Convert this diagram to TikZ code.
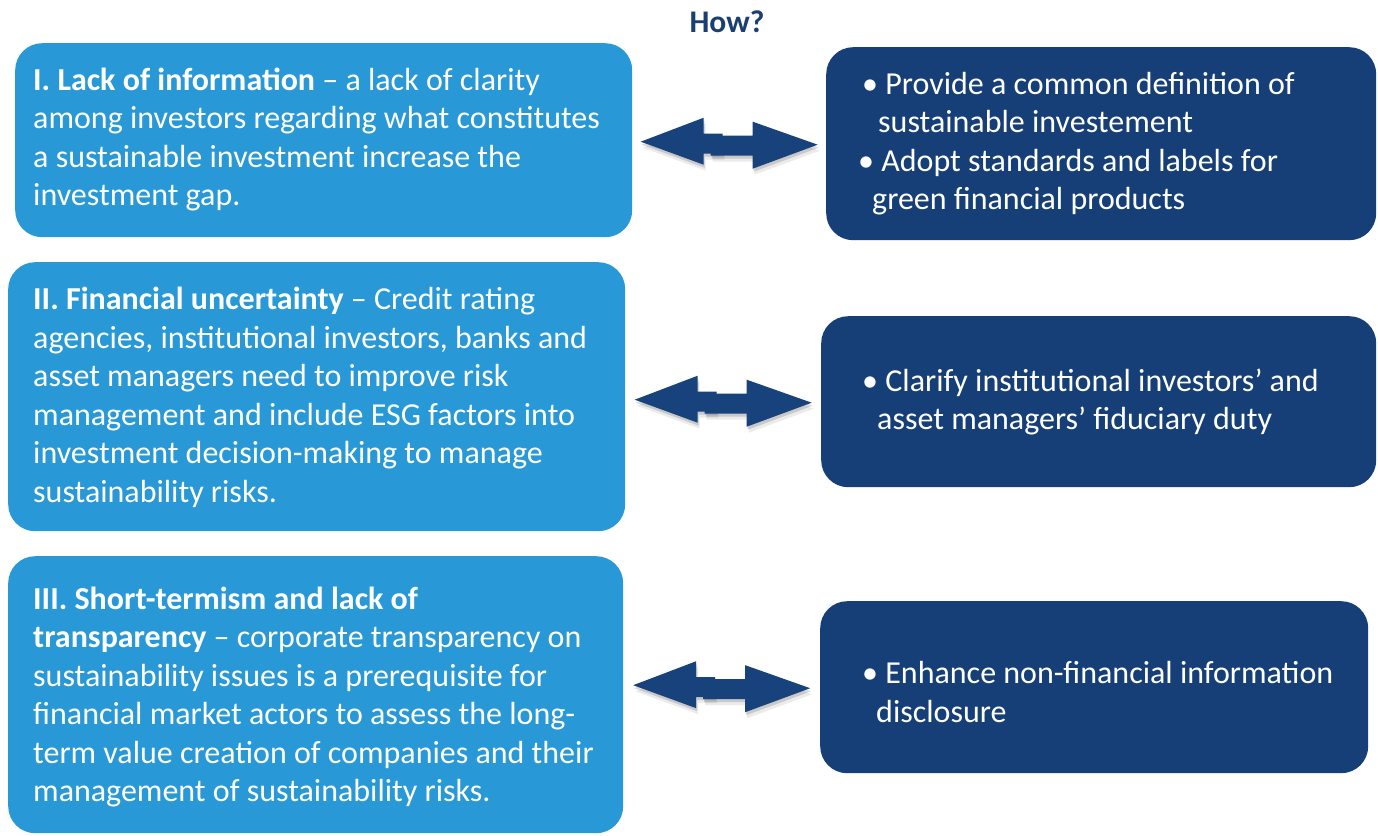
\documentclass[tikz,border=0pt]{standalone}
\usepackage{fontspec}
\setmainfont{Carlito}
\usetikzlibrary{calc}
\definecolor{lightbox}{HTML}{2899D6}
\definecolor{darkbox}{HTML}{163F78}
\definecolor{arrowblue}{HTML}{17427C}
\definecolor{howblue}{HTML}{1B3F73}
\newcommand\leftpiece{(-88.5,-2) -- (-25.5,-26) -- (-25.5,-10) -- (-6.5,-10) -- (-6.5,10) -- (-25.5,10) -- (-25.5,21) -- cycle}
\newcommand\rightpiece{(-18.5,-8) -- (23.5,-8) -- (23.5,-22) -- (88.5,1) -- (23.5,25) -- (23.5,12) -- (-18.5,12) -- cycle}
\newcommand\dualarrow[1]{%
  \begin{scope}[shift={(#1)}]
    \begin{scope}[shift={(1,3)}]\fill[shade1] \leftpiece;\end{scope}
    \begin{scope}[shift={(2,6)}]\fill[shade2] \leftpiece;\end{scope}
    \fill[arr] \leftpiece;
    \begin{scope}[shift={(1,3)}]\fill[shade1] \rightpiece;\end{scope}
    \begin{scope}[shift={(2,6)}]\fill[shade2] \rightpiece;\end{scope}
    \fill[arr] \rightpiece;
  \end{scope}}
\begin{document}
\begin{tikzpicture}[x=1pt,y=-1pt,
  lbox/.style={fill=lightbox, rounded corners=27pt, inner sep=0pt, anchor=north west},
  dbox/.style={fill=darkbox, rounded corners=27pt, inner sep=0pt, anchor=north west},
  btext/.style={text=white, font=\fontsize{32}{38.5}\selectfont, align=left, inner sep=0pt, anchor=west},
  arr/.style={fill=arrowblue, draw=none},
  shade1/.style={fill=black, fill opacity=0.14},
  shade2/.style={fill=black, fill opacity=0.08}]
\fill[white] (0,0) rectangle (1378,835);
\useasboundingbox (0,0) rectangle (1378,835);

\node[text=howblue, font=\fontsize{31.5}{38.5}\selectfont\bfseries, inner sep=0pt] (how) at (727,22) {How?};

% left boxes
\node[lbox, minimum width=617pt, minimum height=194pt] (L1) at (15,43) {};
\node[lbox, minimum width=617pt, minimum height=269pt] (L2) at (8,262) {};
\node[lbox, minimum width=615pt, minimum height=277pt] (L3) at (8,556) {};
% right boxes
\node[dbox, minimum width=550pt, minimum height=193pt] (R1) at (826,47) {};
\node[dbox, minimum width=555pt, minimum height=171pt] (R2) at (821,316) {};
\node[dbox, minimum width=548pt, minimum height=172pt] (R3) at (820,601) {};

% texts
\node[btext] (T1) at ($(L1.west)+(18,-0.5)$) {\textbf{I. Lack of information} – a lack of clarity\\among investors regarding what constitutes\\a sustainable investment increase the\\investment gap.};
\node[btext] (T2) at ($(L2.west)+(25,0.5)$) {\textbf{II. Financial uncertainty} – Credit rating\\agencies, institutional investors, banks and\\asset managers need to improve risk\\management and include ESG factors into\\investment decision-making to manage\\sustainability risks.};
\node[btext] (T3) at ($(L3.west)+(25,2.5)$) {\textbf{III. Short-termism and lack of}\\\textbf{transparency} – corporate transparency on\\sustainability issues is a prerequisite for\\financial market actors to assess the long-\\term value creation of companies and their\\management of sustainability risks.};

\node[btext] (S1) at ($(R1.west)+(32,0)$) {\hspace*{4pt}• Provide a common definition of\\\hspace*{20pt}sustainable investement\\• Adopt standards and labels for\\\hspace*{14pt}green financial products};
\node[btext] (S2) at ($(R2.west)+(41,0.5)$) {• Clarify institutional investors’ and\\\hspace*{15pt}asset managers’ fiduciary duty};
\node[btext] (S3) at ($(R3.west)+(42,5)$) {• Enhance non-financial information\\\hspace*{14pt}disclosure};

% arrows
\coordinate (m1) at ($(L1.east)!0.5!(R1.west)$);
\coordinate (a1) at (m1 |- R1.west);
\coordinate (m2) at ($(L2.east)!0.5!(R2.west)$);
\coordinate (a2) at (m2 |- R2.west);
\coordinate (m3) at ($(L3.east)!0.5!(R3.west)$);
\coordinate (a3) at (m3 |- R3.west);
\dualarrow{a1}
\dualarrow{a2}
\dualarrow{a3}
\end{tikzpicture}
\end{document}
